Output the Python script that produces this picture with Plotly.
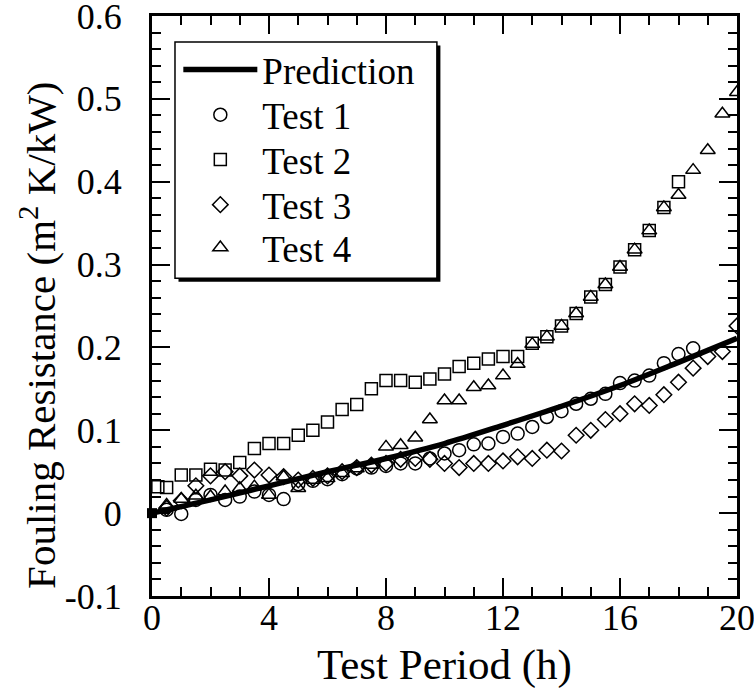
import plotly.graph_objects as go

# ---- data ----
pred_t = [0, 2, 4, 6, 8, 10, 12, 14, 16, 18, 20]
pred_v = [0.0, 0.016, 0.033, 0.050, 0.066, 0.084, 0.106, 0.129, 0.154, 0.182, 0.211]

t1_t = [0.5, 1.0, 1.5, 2.0, 2.5, 3.0, 3.5, 4.0, 4.5, 5.0, 5.5, 6.0, 6.5, 7.0, 7.5, 8.0, 8.5, 9.0,
        9.5, 10.0, 10.5, 11.0, 11.5, 12.0, 12.5, 13.0, 13.5, 14.0, 14.5, 15.0, 15.5, 16.0, 16.5,
        17.0, 17.5, 18.0, 18.5]
t1_v = [0.004, -0.001, 0.016, 0.022, 0.016, 0.020, 0.026, 0.022, 0.017, 0.035, 0.039, 0.041, 0.047,
        0.054, 0.055, 0.057, 0.060, 0.060, 0.066, 0.072, 0.076, 0.083, 0.084, 0.092, 0.096, 0.104,
        0.116, 0.123, 0.132, 0.138, 0.144, 0.157, 0.160, 0.166, 0.181, 0.192, 0.199]

t2_t = [0.2, 0.5, 1.0, 1.5, 2.0, 2.5, 3.0, 3.5, 4.0, 4.5, 5.0, 5.5, 6.0, 6.5, 7.0, 7.5, 8.0, 8.5,
        9.0, 9.5, 10.0, 10.5, 11.0, 11.5, 12.0, 12.5, 13.0, 13.5, 14.0, 14.5, 15.0, 15.5, 16.0,
        16.5, 17.0, 17.5, 18.0]
t2_v = [0.032, 0.031, 0.046, 0.046, 0.053, 0.052, 0.061, 0.078, 0.084, 0.084, 0.094, 0.100, 0.110,
        0.125, 0.131, 0.150, 0.160, 0.160, 0.158, 0.162, 0.168, 0.177, 0.181, 0.186, 0.189, 0.189,
        0.205, 0.213, 0.226, 0.241, 0.261, 0.276, 0.297, 0.318, 0.341, 0.369, 0.400]

t3_t = [0.5, 1.0, 1.5, 2.0, 2.5, 3.0, 3.5, 4.0, 4.5, 5.0, 5.5, 6.0, 6.5, 7.0, 7.5, 8.0, 8.5, 9.0,
        9.5, 10.0, 10.5, 11.0, 11.5, 12.0, 12.5, 13.0, 13.5, 14.0, 14.5, 15.0, 15.5, 16.0, 16.5,
        17.0, 17.5, 18.0, 18.5, 19.0, 19.5, 20.0]
t3_v = [0.006, 0.015, 0.033, 0.045, 0.050, 0.045, 0.052, 0.046, 0.044, 0.040, 0.042, 0.045, 0.050,
        0.055, 0.058, 0.060, 0.065, 0.066, 0.065, 0.060, 0.055, 0.060, 0.060, 0.063, 0.068, 0.066,
        0.076, 0.075, 0.094, 0.100, 0.113, 0.120, 0.132, 0.130, 0.143, 0.158, 0.175, 0.189, 0.195,
        0.226]

t4_t = [0.5, 1.0, 1.5, 2.0, 2.5, 3.0, 3.5, 4.0, 4.5, 5.0, 5.5, 6.0, 6.5, 7.0, 7.5, 8.0, 8.5, 9.0,
        9.5, 10.0, 10.5, 11.0, 11.5, 12.0, 12.5, 13.0, 13.5, 14.0, 14.5, 15.0, 15.5, 16.0, 16.5,
        17.0, 17.5, 18.0, 18.5, 19.0, 19.5, 20.0]
t4_v = [0.010, 0.017, 0.021, 0.020, 0.026, 0.030, 0.032, 0.022, 0.044, 0.030, 0.040, 0.042, 0.048,
        0.054, 0.058, 0.080, 0.082, 0.091, 0.113, 0.136, 0.136, 0.152, 0.154, 0.166, 0.180, 0.204,
        0.213, 0.226, 0.241, 0.261, 0.276, 0.297, 0.318, 0.341, 0.369, 0.384, 0.414, 0.438, 0.482,
        0.508]

origin_t = [0]
origin_v = [0]

y_ticks = [-0.1, 0.0, 0.1, 0.2, 0.3, 0.4, 0.5, 0.6]
y_labels = ["-0.1", "0", "0.1", "0.2", "0.3", "0.4", "0.5", "0.6"]
x_ticks = [0, 4, 8, 12, 16, 20]
x_labels = ["0", "4", "8", "12", "16", "20"]
x_title = "Test Period (h)"
y_title = "Fouling Resistance (m<sup>2</sup> K/kW)"

FONT = "Liberation Serif, Times New Roman, serif"
LEG_FONT = dict(family=FONT, size=37, color="black")

fig = go.Figure()
fig.add_trace(go.Scatter(x=pred_t, y=pred_v, mode="lines", name="Prediction", legend="legend",
                         line=dict(color="black", width=5.5), line_shape="spline"))
mk = dict(color="black", line=dict(color="black", width=1.5))
fig.add_trace(go.Scatter(x=t1_t, y=t1_v, mode="markers", name="Test 1", legend="legend2",
                         marker=dict(symbol="circle-open", size=13, **mk)))
fig.add_trace(go.Scatter(x=t2_t, y=t2_v, mode="markers", name="Test 2", legend="legend3",
                         marker=dict(symbol="square-open", size=12, **mk)))
fig.add_trace(go.Scatter(x=t3_t, y=t3_v, mode="markers", name="Test 3", legend="legend4",
                         marker=dict(symbol="diamond-open", size=12, **mk)))
fig.add_trace(go.Scatter(x=t4_t, y=t4_v, mode="markers", name="Test 4", legend="legend5",
                         marker=dict(symbol="triangle-up-open", size=13, **mk)))
fig.add_trace(go.Scatter(x=origin_t, y=origin_v, mode="markers", showlegend=False,
                         cliponaxis=False,
                         marker=dict(symbol="square", size=10, color="black")))

axis_common = dict(showline=True, linecolor="black", linewidth=3, mirror="allticks",
                   ticks="inside", ticklen=18, tickwidth=1.5, tickcolor="black",
                   showgrid=False, zeroline=False, ticklabeloverflow="allow", automargin=False,
                   tickfont=dict(family=FONT, size=36, color="black"))

fig.update_xaxes(range=[0, 20], tickvals=x_ticks, ticktext=x_labels, ticklabelstandoff=-12,
                 minor=dict(dtick=1, ticks="inside", ticklen=9, tickwidth=1.5, tickcolor="black"),
                 **axis_common)
fig.update_yaxes(range=[-0.1, 0.6], tickvals=y_ticks, ticktext=y_labels, ticklabelstandoff=20,
                 minor=dict(dtick=0.02, ticks="inside", ticklen=9, tickwidth=1.5, tickcolor="black"),
                 **axis_common)

# axis titles
fig.add_annotation(text=x_title, xref="paper", yref="paper", x=0.5, y=-0.119,
                   xanchor="center", yanchor="middle", showarrow=False,
                   font=dict(family=FONT, size=43, color="black"))
fig.add_annotation(text=y_title, xref="paper", yref="paper", x=-0.195, y=0.45,
                   xanchor="center", yanchor="middle", showarrow=False, textangle=-90,
                   font=dict(family=FONT, size=41, color="black"))

# legend box with drop shadow
bx0, bx1, by0, by1 = 0.0393, 0.487, 0.548, 0.955
fig.add_shape(type="rect", xref="paper", yref="paper", x0=bx0 + 0.006, x1=bx1 + 0.006,
              y0=by0 - 0.006, y1=by1 - 0.006, fillcolor="black", line=dict(width=0), layer="above")
fig.add_shape(type="rect", xref="paper", yref="paper", x0=bx0, x1=bx1, y0=by0, y1=by1,
              fillcolor="white", line=dict(color="black", width=1.5), layer="above")

row_y = [0.907, 0.829, 0.752, 0.674, 0.600]
leg_common = dict(x=0.045, xanchor="left", yanchor="middle", bgcolor="rgba(0,0,0,0)",
                  borderwidth=0, font=LEG_FONT, itemwidth=74)

fig.update_layout(
    width=754, height=694,
    margin=dict(l=152, r=17, t=16, b=98, autoexpand=False),
    paper_bgcolor="white", plot_bgcolor="white",
    font=dict(family=FONT, color="black"),
    showlegend=True,
    legend=dict(y=row_y[0], **leg_common),
    legend2=dict(y=row_y[1], **leg_common),
    legend3=dict(y=row_y[2], **leg_common),
    legend4=dict(y=row_y[3], **leg_common),
    legend5=dict(y=row_y[4], **leg_common),
)

fig.write_html("out.html")
